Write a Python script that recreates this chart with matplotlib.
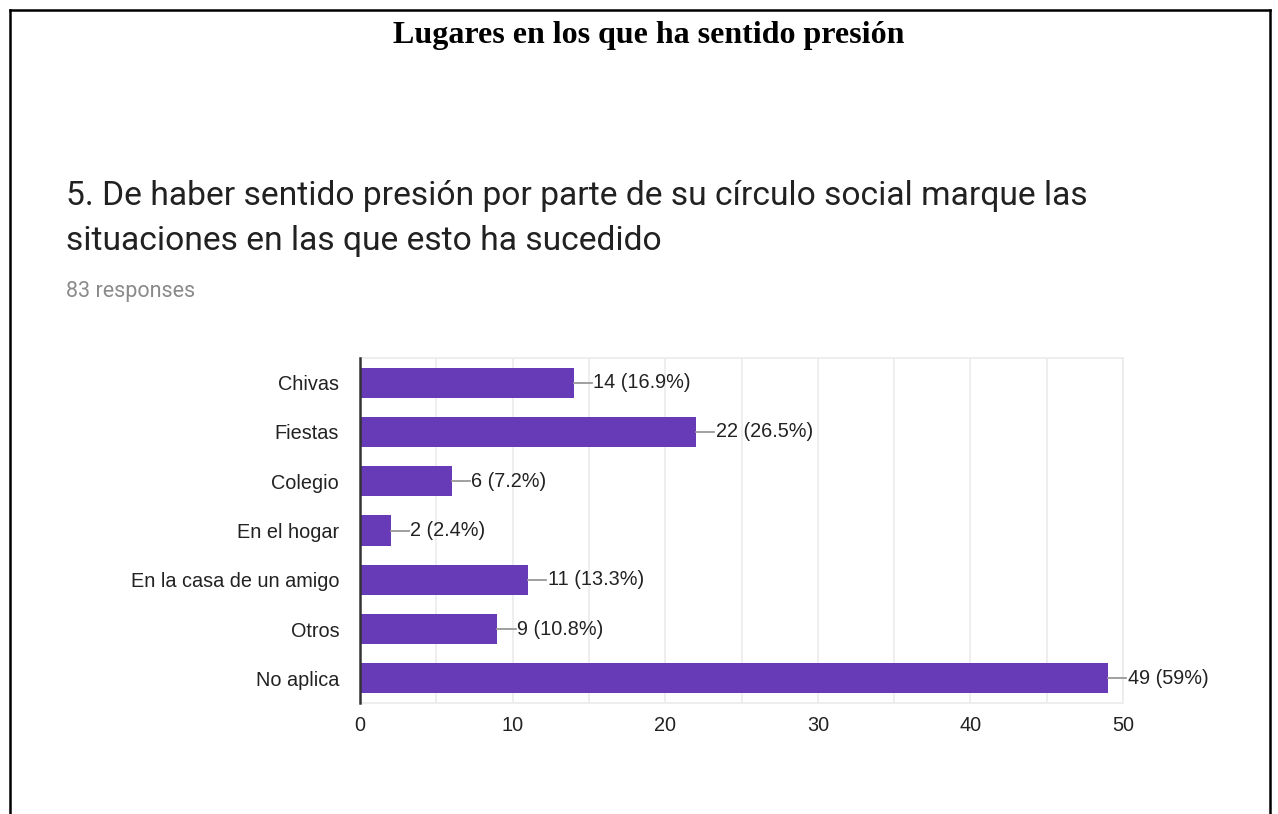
import matplotlib
matplotlib.use("Agg")
import matplotlib.pyplot as plt
from matplotlib.lines import Line2D

# data
categories = ["Chivas", "Fiestas", "Colegio", "En el hogar",
              "En la casa de un amigo", "Otros", "No aplica"]
counts = [14, 22, 6, 2, 11, 9, 49]
pct_labels = ["16.9%", "26.5%", "7.2%", "2.4%", "13.3%", "10.8%", "59%"]
xticks = [0, 10, 20, 30, 40, 50]

fig = plt.figure(figsize=(12.78, 8.14), dpi=100)

# document frame (left, top, right edges)
W, H = 1278, 814
def fx(px): return px / W
def fy(py): return 1 - py / H
for xs, ys in [([10, 10], [10, 830]), ([10, 1270], [10, 10]), ([1270, 1270], [10, 830])]:
    fig.add_artist(Line2D([fx(x) for x in xs], [fy(y) for y in ys], color="black", lw=1.8))

fig.text(fx(649), fy(36), "Lugares en los que ha sentido presión", ha="center", va="center",
         fontsize=23, fontweight="bold", family="Liberation Serif", color="black")
fig.text(fx(66), fy(196), "5. De haber sentido presión por parte de su círculo social marque las",
         ha="left", va="center", fontsize=24.2, family="Roboto", color="#212121")
fig.text(fx(66), fy(241), "situaciones en las que esto ha sucedido",
         ha="left", va="center", fontsize=24.2, family="Roboto", color="#212121")
fig.text(fx(66), fy(292), "83 responses", ha="left", va="center",
         fontsize=15.5, family="Roboto", color="#8a8a8a")

ax = fig.add_axes([fx(360), fy(703), fx(1123) - fx(360), fy(358) - fy(703)])
y = list(range(len(categories)))
ax.barh(y, counts, height=0.61, color="#673ab7", zorder=3)
ax.set_xlim(0, 50)
ax.set_ylim(len(categories) - 0.5, -0.5)

for i, (c, p) in enumerate(zip(counts, pct_labels)):
    ax.plot([c, c + 1.2], [i, i], color="#999999", lw=1.3, zorder=3, clip_on=False)
    ax.text(c + 1.3, i, f"{c} ({p})", ha="left", va="center", fontsize=14.3,
            family="Liberation Sans", color="#222222", clip_on=False)

ax.set_xticks(range(0, 51, 5))
ax.set_xticklabels([str(t) if t in xticks else "" for t in range(0, 51, 5)])
ax.set_yticks(y)
ax.set_yticklabels(categories)
ax.tick_params(axis="both", length=0, labelsize=14.3, colors="#222222")
ax.tick_params(axis="x", pad=9.5)
ax.tick_params(axis="y", pad=15)
for lbl in ax.get_xticklabels() + ax.get_yticklabels():
    lbl.set_family("Liberation Sans")
ax.grid(axis="x", color="#ebebeb", lw=1.2, zorder=0)
for side in ["top", "bottom", "right"]:
    ax.spines[side].set_color("#ebebeb")
    ax.spines[side].set_linewidth(1.2)
ax.spines["left"].set_color("#333333")
ax.spines["left"].set_linewidth(1.8)
ax.spines["left"].set_zorder(4)

fig.savefig("out.png", dpi=100)
